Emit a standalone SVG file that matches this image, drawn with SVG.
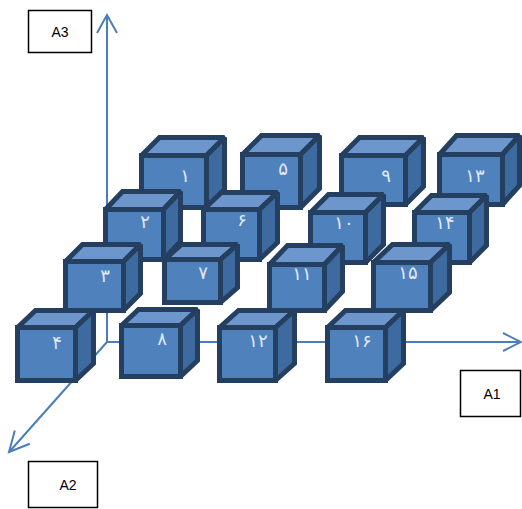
<svg xmlns="http://www.w3.org/2000/svg" width="522" height="509" viewBox="0 0 522 509">
<style>
.f{fill:#4F81BD;stroke:#243F60;stroke-width:5;stroke-linejoin:miter;stroke-miterlimit:2}
.t{fill:#6C96CC;stroke:#243F60;stroke-width:5;stroke-linejoin:miter;stroke-miterlimit:2}
.r{fill:#3D6A9F;stroke:#243F60;stroke-width:5;stroke-linejoin:miter;stroke-miterlimit:2}
.n{font-family:"DejaVu Sans",sans-serif;font-size:18px;fill:#E2EAF5;text-anchor:middle}
.ax{fill:none;stroke:#4A7EBB;stroke-width:2}
.box{fill:#fff;stroke:#000;stroke-width:1.5}
.lbl{font-family:"Liberation Sans",Arial,sans-serif;font-size:14px;fill:#000;text-anchor:middle}
</style>
<rect width="522" height="509" fill="#fff"/>
<g id="connectors">
<line class="ax" x1="107" y1="342" x2="107" y2="16"/>
<polyline class="ax" points="97,33 107,15 117,33"/>
<line class="ax" x1="107" y1="342" x2="520" y2="342"/>
<polyline class="ax" points="503,333 521,342 503,351"/>
<line class="ax" x1="107" y1="342" x2="10" y2="451"/>
<polyline class="ax" points="29.8,443.8 9,452 14.8,430.4"/>
</g>
<g id="cube-1"><rect class="f" x="141.5" y="155.5" width="65" height="52"/><polygon class="t" points="141.5,155.5 159.5,137.5 224.5,137.5 206.5,155.5"/><polygon class="r" points="206.5,155.5 224.5,137.5 224.5,189.5 206.5,207.5"/><text class="n" x="185" y="182">۱</text></g>
<g id="cube-5"><rect class="f" x="242.5" y="154.5" width="58" height="53"/><polygon class="t" points="242.5,154.5 261.5,135.5 319.5,135.5 300.5,154.5"/><polygon class="r" points="300.5,154.5 319.5,135.5 319.5,188.5 300.5,207.5"/><text class="n" x="283" y="175">۵</text></g>
<g id="cube-9"><rect class="f" x="341.5" y="155.5" width="64" height="49"/><polygon class="t" points="341.5,155.5 359.5,137.5 423.5,137.5 405.5,155.5"/><polygon class="r" points="405.5,155.5 423.5,137.5 423.5,186.5 405.5,204.5"/><text class="n" x="386" y="182">۹</text></g>
<g id="cube-13"><rect class="f" x="439.5" y="154.5" width="63" height="50"/><polygon class="t" points="439.5,154.5 456.5,135.5 519.5,135.5 502.5,154.5"/><polygon class="r" points="502.5,154.5 519.5,135.5 519.5,185.5 502.5,204.5"/><text class="n" x="475" y="182">۱۳</text></g>
<g id="cube-2"><rect class="f" x="105.5" y="209.5" width="58" height="50"/><polygon class="t" points="105.5,209.5 122.5,191.5 180.5,191.5 163.5,209.5"/><polygon class="r" points="163.5,209.5 180.5,191.5 180.5,241.5 163.5,259.5"/><text class="n" x="145" y="228">۲</text></g>
<g id="cube-6"><rect class="f" x="203.5" y="209.5" width="56" height="50"/><polygon class="t" points="203.5,209.5 221.5,192.5 277.5,192.5 259.5,209.5"/><polygon class="r" points="259.5,209.5 277.5,192.5 277.5,242.5 259.5,259.5"/><text class="n" x="242" y="226">۶</text></g>
<g id="cube-10"><rect class="f" x="310.5" y="212.5" width="55" height="50"/><polygon class="t" points="310.5,212.5 328.5,194.5 383.5,194.5 365.5,212.5"/><polygon class="r" points="365.5,212.5 383.5,194.5 383.5,244.5 365.5,262.5"/><text class="n" x="344" y="229">۱۰</text></g>
<g id="cube-14"><rect class="f" x="414.5" y="212.5" width="55" height="50"/><polygon class="t" points="414.5,212.5 431.5,195.5 486.5,195.5 469.5,212.5"/><polygon class="r" points="469.5,212.5 486.5,195.5 486.5,245.5 469.5,262.5"/><text class="n" x="445" y="229">۱۴</text></g>
<g id="cube-3"><rect class="f" x="65.5" y="261.5" width="58" height="49"/><polygon class="t" points="65.5,261.5 82.5,244.5 140.5,244.5 123.5,261.5"/><polygon class="r" points="123.5,261.5 140.5,244.5 140.5,293.5 123.5,310.5"/><text class="n" x="105" y="282">۳</text></g>
<g id="cube-7"><rect class="f" x="164.5" y="259.5" width="56" height="43"/><polygon class="t" points="164.5,259.5 181.5,244.5 237.5,244.5 220.5,259.5"/><polygon class="r" points="220.5,259.5 237.5,244.5 237.5,287.5 220.5,302.5"/><text class="n" x="203" y="279">۷</text></g>
<g id="cube-11"><rect class="f" x="269.5" y="264.5" width="55" height="46"/><polygon class="t" points="269.5,264.5 287.5,245.5 342.5,245.5 324.5,264.5"/><polygon class="r" points="324.5,264.5 342.5,245.5 342.5,291.5 324.5,310.5"/><text class="n" x="302" y="280">۱۱</text></g>
<g id="cube-15"><rect class="f" x="373.5" y="262.5" width="57" height="48"/><polygon class="t" points="373.5,262.5 392.5,244.5 449.5,244.5 430.5,262.5"/><polygon class="r" points="430.5,262.5 449.5,244.5 449.5,292.5 430.5,310.5"/><text class="n" x="408" y="279">۱۵</text></g>
<g id="cube-4"><rect class="f" x="17.5" y="327.5" width="58" height="53"/><polygon class="t" points="17.5,327.5 35.5,310.5 93.5,310.5 75.5,327.5"/><polygon class="r" points="75.5,327.5 93.5,310.5 93.5,363.5 75.5,380.5"/><text class="n" x="57" y="349">۴</text></g>
<g id="cube-8"><rect class="f" x="121.5" y="325.5" width="59" height="51"/><polygon class="t" points="121.5,325.5 138.5,309.5 197.5,309.5 180.5,325.5"/><polygon class="r" points="180.5,325.5 197.5,309.5 197.5,360.5 180.5,376.5"/><text class="n" x="162" y="345">۸</text></g>
<g id="cube-12"><rect class="f" x="219.5" y="327.5" width="56" height="53"/><polygon class="t" points="219.5,327.5 238.5,310.5 294.5,310.5 275.5,327.5"/><polygon class="r" points="275.5,327.5 294.5,310.5 294.5,363.5 275.5,380.5"/><text class="n" x="258" y="347">۱۲</text></g>
<g id="cube-16"><rect class="f" x="327.5" y="327.5" width="58" height="53"/><polygon class="t" points="327.5,327.5 345.5,310.5 403.5,310.5 385.5,327.5"/><polygon class="r" points="385.5,327.5 403.5,310.5 403.5,363.5 385.5,380.5"/><text class="n" x="362" y="347">۱۶</text></g>
<g id="label-A3"><rect class="box" x="28.5" y="10.5" width="63" height="42"/><text class="lbl" x="60" y="37">A3</text></g>
<g id="label-A1"><rect class="box" x="460.5" y="370.5" width="60" height="46"/><text class="lbl" x="492" y="399">A1</text></g>
<g id="label-A2"><rect class="box" x="28.5" y="461.5" width="69" height="46"/><text class="lbl" x="68" y="490">A2</text></g>
</svg>
